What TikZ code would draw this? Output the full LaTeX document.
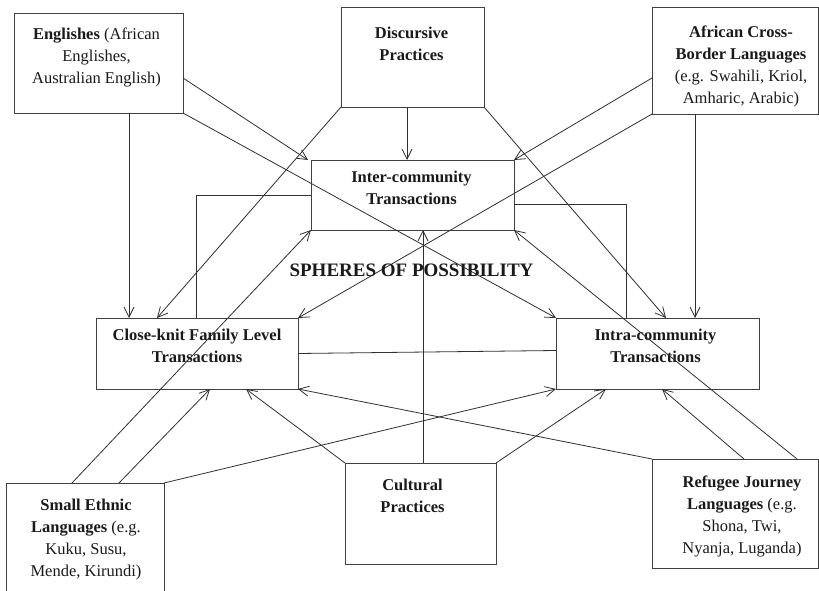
\documentclass[tikz,border=0pt]{standalone}
\usepackage{fontspec}
\setmainfont{Liberation Serif}
\usetikzlibrary{arrows.meta,calc}
\definecolor{boxc}{HTML}{404040}
\definecolor{linec}{HTML}{303030}
\definecolor{txtc}{HTML}{1A1A1A}
\begin{document}
\begin{tikzpicture}[x=1pt,y=-1pt,
  box/.style={draw=boxc, line width=0.9pt, inner sep=0pt, outer sep=0pt, anchor=north west},
  txt/.style={anchor=north, inner sep=0pt, outer sep=0pt, align=center, text=txtc, font=\fontsize{16.5}{22}\selectfont},
  conn/.style={draw=linec, line width=0.8pt},
  arr/.style={conn, -{Straight Barb[length=10pt,width=10pt]}},
]
\useasboundingbox (0,0) rectangle (819,591);
\fill[white] (0,0) rectangle (819,591);

% boxes
\node[box, minimum width=169pt, minimum height=100pt] (eng) at (14,13) {};
\node[box, minimum width=143pt, minimum height=100pt] (disc) at (341,7) {};
\node[box, minimum width=166pt, minimum height=107pt] (afr) at (652,7) {};
\node[box, minimum width=203pt, minimum height=70pt] (inter) at (311,160) {};
\node[box, minimum width=202pt, minimum height=71pt] (close) at (96,318) {};
\node[box, minimum width=203pt, minimum height=71pt] (intra) at (556,318) {};
\node[box, minimum width=158pt, minimum height=117pt] (small) at (6,483) {};
\node[box, minimum width=151pt, minimum height=101pt] (cult) at (345,463) {};
\node[box, minimum width=166pt, minimum height=109pt] (ref) at (652,459) {};

% texts
\node[txt] (engT) at ($(eng.north)+(-2,14.4)$) {\textbf{Englishes} (African\\Englishes,\\Australian English)};
\node[txt] (discT) at ($(disc.north)+(-1,20.4)$) {\textbf{Discursive}\\\textbf{Practices}};
\node[txt] (afrT) at ($(afr.north)+(6,18.4)$) {\textbf{African Cross-}\\\textbf{Border Languages}\\(e.g. Swahili, Kriol,\\Amharic, Arabic)};
\node[txt] (interT) at ($(inter.north)+(-1,11.4)$) {\textbf{Inter-community}\\\textbf{Transactions}};
\node[txt] (closeT) at ($(close.north)+(0,11.4)$) {\textbf{Close-knit Family Level}\\\textbf{Transactions}};
\node[txt] (intraT) at ($(intra.north)+(-2,11.4)$) {\textbf{Intra-community}\\\textbf{Transactions}};
\node[txt] (smallT) at ($(small.north)+(1,16.4)$) {\textbf{Small Ethnic}\\\textbf{Languages} (e.g.\\Kuku, Susu,\\Mende, Kirundi)};
\node[txt] (cultT) at ($(cult.north)+(-8,16.4)$) {\textbf{Cultural}\\\textbf{Practices}};
\node[txt] (refT) at ($(ref.north)+(7,16.4)$) {\textbf{Refugee Journey}\\\textbf{Languages} (e.g.\\Shona, Twi,\\Nyanja, Luganda)};

% connectors
\draw[arr] ($(eng.south west)+(115,0)$) -- ($(close.north west)+(33,0)$);
\draw[arr] ($(eng.south east)+(0,-35)$) -- ($(inter.north west)+(-3,0)$);
\draw[arr] (eng.south east) -- (intra.north west);
\draw[arr] (disc.south west) -- ($(close.north west)+(61,0)$);
\draw[arr] ($(disc.south west)+(66,0)$) -- ($(inter.north west)+(96,0)$);
\draw[arr] (disc.south east) -- ($(intra.north west)+(110,0)$);
\draw[arr] ($(afr.south west)+(0,-36)$) -- (inter.north east);
\draw[arr] (afr.south west) -- (close.north east);
\draw[arr] ($(afr.south west)+(43,0)$) -- ($(intra.north west)+(139,0)$);
\draw[conn] ($(close.north west)+(100,0)$) |- (inter.west);
\draw[conn] ($(inter.north east)+(0,44)$) -| ($(intra.north west)+(70,0)$);
\draw[conn] (close.east) -- ($(intra.west)+(0,-3)$);
\draw[arr] ($(cult.north west)+(78,0)$) -- ($(inter.south west)+(112,0)$);
\draw[arr] (cult.north west) -- ($(close.south west)+(150,0)$);
\draw[arr] (cult.north east) -- ($(intra.south west)+(50,0)$);
\draw[arr] ($(small.north west)+(66,0)$) -- (inter.south west);
\draw[arr] ($(small.north west)+(113,0)$) -- ($(close.south west)+(114,0)$);
\draw[arr] (small.north east) -- (intra.south west);
\draw[arr] (ref.north west) -- (close.south east);
\draw[arr] ($(ref.north west)+(92,0)$) -- ($(intra.south west)+(106,0)$);
\draw[arr] ($(ref.north west)+(145,0)$) -- (inter.south east);

\node[inner sep=0pt, text=txtc, font=\bfseries\fontsize{19}{22}\selectfont] (sph) at (411.5,270) {SPHERES OF POSSIBILITY};
\end{tikzpicture}
\end{document}
